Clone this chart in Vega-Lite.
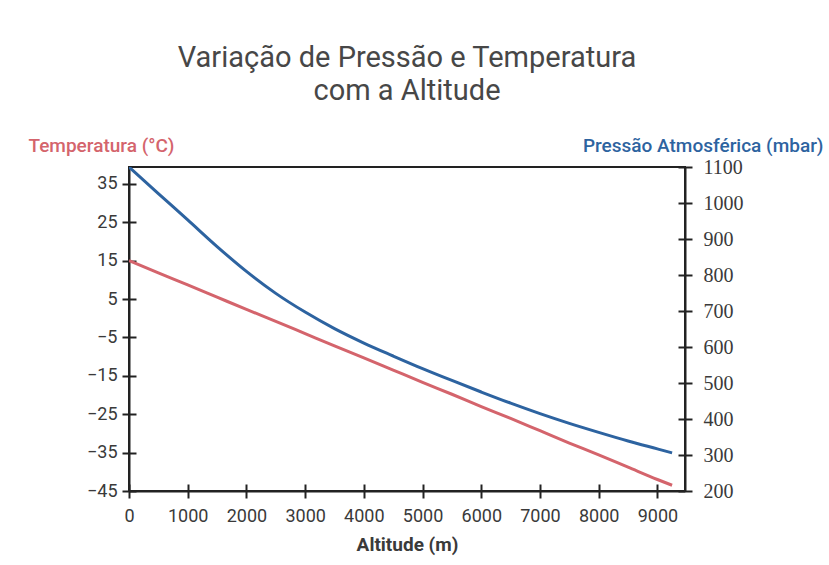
{
  "$schema": "https://vega.github.io/schema/vega-lite/v6.json",
  "width": 556,
  "height": 324,
  "autosize": "none",
  "padding": {"left": 129, "top": 167, "right": 144, "bottom": 74},
  "background": "white",
  "title": {
    "text": ["Variação de Pressão e Temperatura", "com a Altitude"],
    "font": "Roboto",
    "fontSize": 29,
    "fontWeight": "normal",
    "color": "#474747",
    "anchor": "middle",
    "offset": 30,
    "lineHeight": 33
  },
  "config": {
    "view": {"stroke": "#222222", "strokeWidth": 2},
    "axis": {
      "labelFont": "Roboto",
      "labelFontSize": 18,
      "labelColor": "#3a3a3a",
      "titleFont": "Roboto",
      "domainColor": "#222222",
      "domainWidth": 2,
      "tickColor": "#222222",
      "tickWidth": 2,
      "grid": false
    }
  },
  "data": {
    "values": [
      {"alt": 0, "temp": 15.0, "pres": 1100},
      {"alt": 500, "temp": 11.8, "pres": 1026},
      {"alt": 1000, "temp": 8.7, "pres": 953},
      {"alt": 1500, "temp": 5.5, "pres": 879},
      {"alt": 2000, "temp": 2.3, "pres": 810},
      {"alt": 2500, "temp": -0.8, "pres": 749},
      {"alt": 3000, "temp": -4.0, "pres": 697},
      {"alt": 3500, "temp": -7.2, "pres": 651},
      {"alt": 4000, "temp": -10.3, "pres": 611},
      {"alt": 4500, "temp": -13.5, "pres": 575},
      {"alt": 5000, "temp": -16.7, "pres": 540},
      {"alt": 5500, "temp": -19.8, "pres": 507},
      {"alt": 6000, "temp": -23.0, "pres": 475},
      {"alt": 6500, "temp": -26.1, "pres": 444},
      {"alt": 7000, "temp": -29.3, "pres": 415},
      {"alt": 7500, "temp": -32.5, "pres": 388},
      {"alt": 8000, "temp": -35.6, "pres": 363},
      {"alt": 8500, "temp": -38.8, "pres": 339},
      {"alt": 9000, "temp": -42.0, "pres": 317},
      {"alt": 9250, "temp": -43.5, "pres": 306}
    ]
  },
  "layer": [
    {
      "mark": {"type": "line", "color": "#d4646c", "strokeWidth": 3, "interpolate": "monotone", "clip": true},
      "encoding": {
        "x": {
          "field": "alt", "type": "quantitative",
          "scale": {"domain": [0, 9470], "nice": false, "zero": false},
          "axis": {
            "values": [0, 1000, 2000, 3000, 4000, 5000, 6000, 7000, 8000, 9000],
            "format": "d",
            "tickSize": 7, "labelPadding": 9, "labelFlush": false, "labelOverlap": false,
            "title": "Altitude (m)", "titleFontSize": 19, "titleFontWeight": "bold", "titleColor": "#3a3a3a", "titlePadding": 10
          }
        },
        "y": {
          "field": "temp", "type": "quantitative",
          "scale": {"domain": [-45, 39.4], "nice": false, "zero": false},
          "axis": {
            "orient": "left",
            "values": [-45, -35, -25, -15, -5, 5, 15, 25, 35],
            "format": "d",
            "labelExpr": "replace(datum.label, '-', '−')",
            "tickSize": 7, "labelPadding": 5, "labelFlush": false, "labelOverlap": false,
            "title": "Temperatura (°C)", "titleAngle": 0, "titleAlign": "left", "titleBaseline": "middle",
            "titleX": -101, "titleY": -22, "titleFontSize": 19, "titleFontWeight": 500, "titleColor": "#d4646c"
          }
        }
      }
    },
    {
      "mark": {"type": "line", "color": "#2d63a0", "strokeWidth": 3, "interpolate": "monotone", "clip": true},
      "encoding": {
        "x": {
          "field": "alt", "type": "quantitative",
          "scale": {"domain": [0, 9470], "nice": false, "zero": false},
          "axis": {
            "orient": "bottom",
            "values": [0, 1000, 2000, 3000, 4000, 5000, 6000, 7000, 8000, 9000],
            "tickSize": -7, "labels": false, "domain": false, "title": null
          }
        },
        "y": {
          "field": "pres", "type": "quantitative",
          "scale": {"domain": [200, 1100], "nice": false, "zero": false},
          "axis": {
            "orient": "right",
            "values": [200, 300, 400, 500, 600, 700, 800, 900, 1000, 1100],
            "format": "d",
            "tickSize": 7, "labelPadding": 11, "labelFlush": false, "labelOverlap": false,
            "labelFont": "Liberation Serif", "labelFontSize": 20,
            "title": "Pressão Atmosférica (mbar)", "titleAngle": 0, "titleAlign": "right", "titleBaseline": "middle",
            "titleX": 138, "titleY": -22, "titleFontSize": 19, "titleFontWeight": 500, "titleColor": "#2d63a0"
          }
        }
      }
    },
    {
      "mark": {"type": "line", "strokeOpacity": 0},
      "encoding": {
        "x": {"field": "alt", "type": "quantitative", "scale": {"domain": [0, 9470], "nice": false, "zero": false}, "axis": null},
        "y": {
          "field": "temp", "type": "quantitative",
          "scale": {"domain": [-45, 39.4], "nice": false, "zero": false},
          "axis": {"orient": "left", "values": [-45, -35, -25, -15, -5, 5, 15, 25, 35], "tickSize": -7, "labels": false, "domain": false, "title": null}
        }
      }
    },
    {
      "mark": {"type": "line", "strokeOpacity": 0},
      "encoding": {
        "x": {"field": "alt", "type": "quantitative", "scale": {"domain": [0, 9470], "nice": false, "zero": false}, "axis": null},
        "y": {
          "field": "pres", "type": "quantitative",
          "scale": {"domain": [200, 1100], "nice": false, "zero": false},
          "axis": {"orient": "right", "values": [200, 300, 400, 500, 600, 700, 800, 900, 1000, 1100], "tickSize": -7, "labels": false, "domain": false, "title": null}
        }
      }
    }
  ],
  "resolve": {
    "scale": {"y": "independent"},
    "axis": {"x": "independent", "y": "independent"}
  }
}
